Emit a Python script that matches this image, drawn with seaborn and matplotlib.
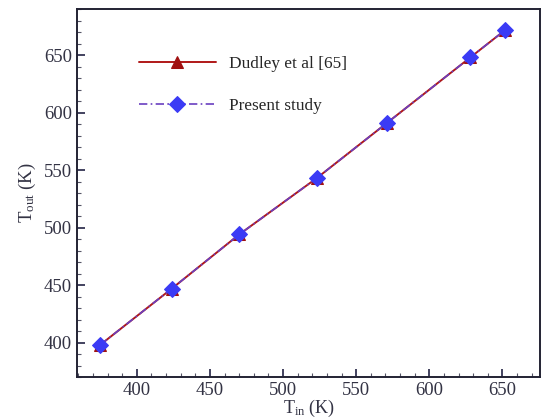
import pandas as pd
import matplotlib
matplotlib.use("Agg")
import matplotlib.pyplot as plt
import seaborn as sns

# values
t_in = [375, 424, 470, 523, 571, 628, 652]
t_out_dudley = [398, 447, 494, 543, 591, 648, 672]
t_out_present = [398, 447, 494, 543, 591, 648, 672]
labels = ["Dudley et al [65]", "Present study"]

sns.set_style("ticks")
plt.rcParams["font.family"] = ["Liberation Serif", "DejaVu Serif"]
plt.rcParams["mathtext.fontset"] = "custom"
plt.rcParams["mathtext.rm"] = "Liberation Serif"
plt.rcParams["mathtext.it"] = "Liberation Serif:italic"

df = pd.DataFrame({"t_in": t_in, "dudley": t_out_dudley, "present": t_out_present})

fig = plt.figure(figsize=(5.41, 4.18), dpi=100)
ax = fig.add_axes([0.142, 0.098, 0.857, 0.880])

sns.lineplot(data=df, x="t_in", y="dudley", ax=ax, color="#b01818", lw=1.4,
             marker="^", markersize=8, markerfacecolor="#a01010",
             markeredgecolor="#a01010", label=labels[0])
sns.lineplot(data=df, x="t_in", y="present", ax=ax, color="#6a3fc0", lw=1.2,
             linestyle=(0, (5, 2, 1, 2)), marker="D", markersize=8,
             markerfacecolor="#3b3bf5", markeredgecolor="#3b3bf5",
             label=labels[1])

ax.set_xlim(359, 676)
ax.set_ylim(370, 690)
ax.set_xticks([400, 450, 500, 550, 600, 650])
ax.set_yticks([400, 450, 500, 550, 600, 650])
ax.xaxis.set_minor_locator(matplotlib.ticker.MultipleLocator(10))
ax.yaxis.set_minor_locator(matplotlib.ticker.MultipleLocator(10))
ax.tick_params(which="major", direction="in", length=6, width=1.2,
               labelsize=13.5, colors="#222244", labelcolor="#333344")
ax.tick_params(which="minor", direction="in", length=3, width=0.8, colors="#555566")
for s in ax.spines.values():
    s.set_linewidth(1.4)
    s.set_color("#222233")

ax.set_xlabel(r"T$_{\rm in}$ (K)", fontsize=13, color="#333344", labelpad=-1)
ax.set_ylabel(r"T$_{\rm out}$ (K)", fontsize=13.5, color="#333344", labelpad=4)

ax.legend(loc="upper left", bbox_to_anchor=(0.1, 0.915), frameon=False,
          fontsize=12.4, handlelength=4.5, labelspacing=1.5, handletextpad=0.75)

fig.savefig("out.png", dpi=100)
